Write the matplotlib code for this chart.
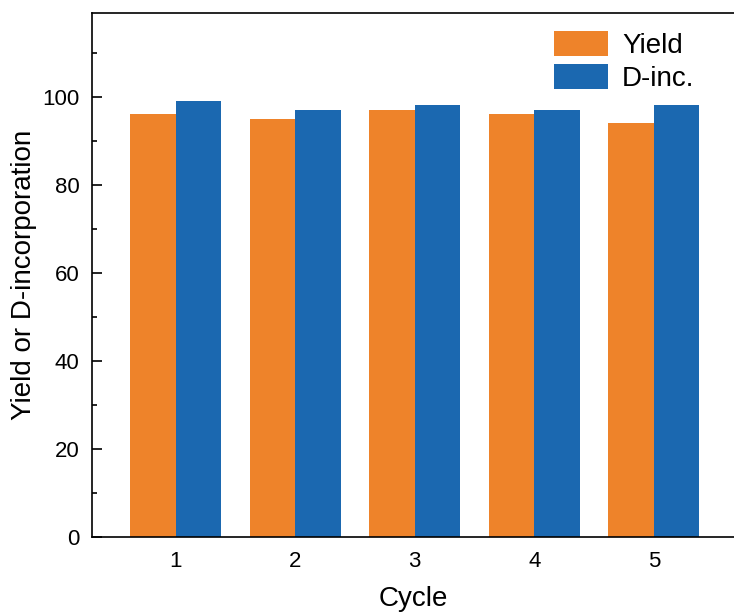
import matplotlib
matplotlib.use('Agg')
import matplotlib.pyplot as plt
from matplotlib.ticker import MultipleLocator
import numpy as np

plt.rcParams['font.family'] = ['Liberation Sans', 'DejaVu Sans']

cycles = [1, 2, 3, 4, 5]
yield_vals = [96, 95, 97, 96, 94]
dinc_vals = [99, 97, 98, 97, 98]

orange = '#EE832A'
blue = '#1B68B0'

fig = plt.figure(figsize=(7.34, 6.15), dpi=100)
ax = fig.add_axes([92/734, 1 - 537/615, 642/734, 524/615])

x = np.array(cycles)
w = 0.38
ax.bar(x - w/2, yield_vals, width=w, color=orange, label='Yield')
ax.bar(x + w/2, dinc_vals, width=w, color=blue, label='D-inc.')

ax.set_xlim(0.3, 5.67)
ax.set_ylim(0, 119)
ax.set_xticks(cycles)
ax.yaxis.set_major_locator(MultipleLocator(20))
ax.yaxis.set_minor_locator(MultipleLocator(10))

for s in ['left', 'bottom', 'top']:
    ax.spines[s].set_linewidth(1.2)
ax.spines['right'].set_visible(False)

ax.tick_params(axis='y', which='major', direction='in', length=7, width=1.2, labelsize=16, pad=9)
ax.tick_params(axis='y', which='minor', direction='in', length=3.6, width=1.2)
ax.tick_params(axis='x', length=0, labelsize=16, pad=10)

ax.set_xlabel('Cycle', fontsize=20, labelpad=10)
ax.set_ylabel('Yield or D-incorporation', fontsize=20, labelpad=4)

ax.legend(loc='upper left', bbox_to_anchor=(0.72, 0.966), frameon=False,
          fontsize=20, handlelength=1.94, handleheight=1.0, labelspacing=0.2,
          handletextpad=0.5, borderpad=0, borderaxespad=0)

fig.savefig('out.png', dpi=100)
